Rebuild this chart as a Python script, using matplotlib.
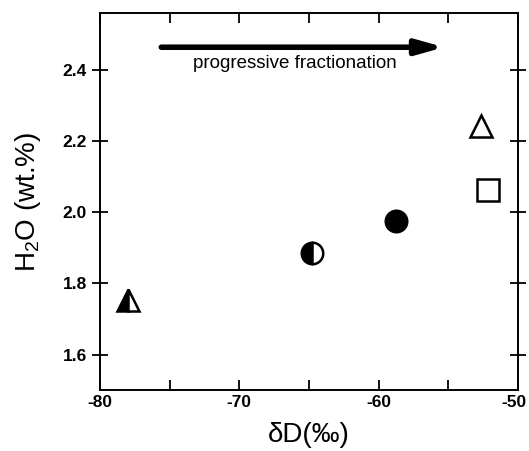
import matplotlib
matplotlib.use("Agg")
import matplotlib.pyplot as plt
from matplotlib.transforms import ScaledTranslation

plt.rcParams['font.family'] = ['Liberation Sans', 'DejaVu Sans']
plt.rcParams['axes.unicode_minus'] = False
plt.rcParams['mathtext.fontset'] = 'custom'
plt.rcParams['mathtext.rm'] = 'Liberation Sans'

# data
dD = [-78.0, -64.8, -58.75, -52.65, -52.15]
h2o = [1.754, 1.886, 1.976, 2.242, 2.063]
markers = ['^', 'o', 'o', '^', 's']
fills = ['left', 'left', 'full', 'none', 'none']
xticks = [-80, -70, -60, -50]
yticks = [1.6, 1.8, 2.0, 2.2, 2.4]

fig = plt.figure(figsize=(5.29, 4.51), dpi=100)
ax = fig.add_axes([0.189, 0.135, 0.790, 0.836])

for x, y, m, f in zip(dD, h2o, markers, fills):
    ms = {'^': 16.5, 'o': 15.5, 's': 16}[m]
    if f == 'none':
        ax.plot(x, y, marker=m, ms=ms, mfc='white', mec='black', mew=1.8, ls='none')
    else:
        ax.plot(x, y, marker=m, ms=ms, fillstyle=f, mfc='black', mfcalt='white',
                mec='black', mew=1.8, ls='none')

ax.annotate('', xy=(-55.3, 2.464), xytext=(-75.6, 2.464),
            arrowprops=dict(arrowstyle='-|>,head_length=1.6,head_width=0.45',
                            color='black', lw=4, shrinkA=0, shrinkB=0))
ax.text(-66.0, 2.418, 'progressive fractionation', ha='center', va='center', fontsize=13.5)

ax.set_xlim(-80, -50)
ax.set_ylim(1.5, 2.56)
ax.set_xticks(xticks)
ax.set_xticks([-75, -65, -55], minor=True)
ax.set_yticks(yticks)
ax.set_yticklabels([f'{v:.1f}' for v in yticks])
ax.tick_params(which='both', direction='in', top=True, right=True, labelsize=12.5, width=1.3)
ax.tick_params(which='major', length=7)
ax.tick_params(which='minor', length=7)
ax.tick_params(axis='y', direction='inout', length=12)
for lab in ax.get_xticklabels() + ax.get_yticklabels():
    lab.set_fontweight('bold')
xl = ax.get_xticklabels()
xl[-1].set_transform(xl[-1].get_transform() + ScaledTranslation(-4/100, 0, fig.dpi_scale_trans))
for s in ax.spines.values():
    s.set_linewidth(1.4)

ax.set_xlabel('δD(‰)', fontsize=20, labelpad=9)
ax.set_ylabel('H$_2$O (wt.%)', fontsize=20, labelpad=14)

fig.savefig('out.png', dpi=100)
